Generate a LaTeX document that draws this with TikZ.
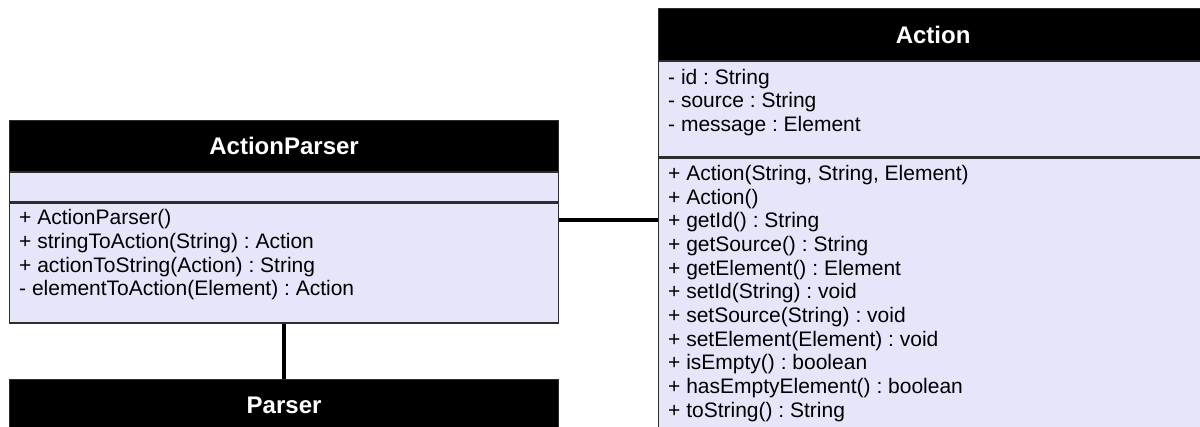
\documentclass[tikz,border=0pt]{standalone}
\usepackage{fontspec}
\setmainfont{Liberation Sans}
\frenchspacing
\usetikzlibrary{positioning,calc}
\definecolor{BodyClr}{RGB}{230,230,250}
\definecolor{EdgeClr}{RGB}{45,45,45}

\tikzset{
  classhead/.style={draw=EdgeClr,line width=1.2pt,fill=black,text=white,
    font=\fontsize{24}{28}\selectfont\bfseries,minimum width=549pt,
    inner sep=0pt,anchor=north west},
  classpart/.style={draw=EdgeClr,line width=1.2pt,fill=BodyClr,
    minimum width=549pt,inner sep=0pt},
  members/.style={font=\fontsize{21}{23.7}\selectfont,align=left,
    inner sep=0pt,anchor=north west},
  assoc/.style={line width=4.5pt,black}
}

\begin{document}
\begin{tikzpicture}[x=1pt,y=-1pt]
\useasboundingbox (0,0) rectangle (1200,426);
\clip (0,0) rectangle (1200,426);

% ActionParser
\node[classhead,minimum height=51pt] (apHead) at (9,120) {ActionParser};
\node[classpart,minimum height=29pt,below=0pt of apHead] (apAttr) {};
\node[classpart,minimum height=120pt,below=0pt of apAttr] (apOps) {};
\node[members] (apOpsTxt) at ($(apOps.north west)+(10,7)$)
  {+ ActionParser()\\
   + stringToAction(String) : Action\\
   + actionToString(Action) : String\\
   - elementToAction(Element) : Action};

% Parser
\node[classhead,minimum height=51pt] (parHead) at (9,379) {Parser};

% Action
\node[classhead,minimum height=52pt] (actHead) at (658,8) {Action};
\node[classpart,minimum height=95pt,below=0pt of actHead] (actAttr) {};
\node[classpart,minimum height=290pt,below=0pt of actAttr] (actOps) {};
\node[members] (actAttrTxt) at ($(actAttr.north west)+(10,7.5)$)
  {- id : String\\
   - source : String\\
   - message : Element};
\node[members] (actOpsTxt) at ($(actOps.north west)+(10,7.5)$)
  {+ Action(String, String, Element)\\
   + Action()\\
   + getId() : String\\
   + getSource() : String\\
   + getElement() : Element\\
   + setId(String) : void\\
   + setSource(String) : void\\
   + setElement(Element) : void\\
   + isEmpty() : boolean\\
   + hasEmptyElement() : boolean\\
   + toString() : String};

% links
\coordinate (apLink) at (608,220);
\draw[assoc] (apOps.east |- apLink) -- (actOps.west |- apLink);
\draw[assoc] (apOps.south) -- (parHead.north);

\end{tikzpicture}
\end{document}
